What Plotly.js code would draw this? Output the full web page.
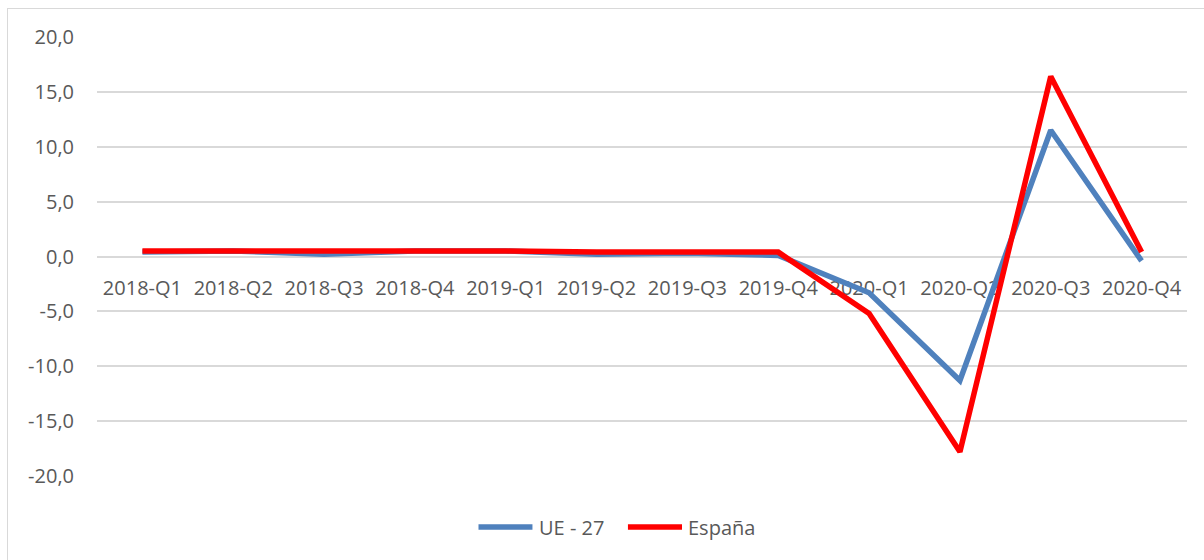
<!DOCTYPE html>
<html>
<head>
<meta charset="utf-8">
<script src="https://cdn.plot.ly/plotly-3.0.1.min.js"></script>
<style>
  html, body { margin: 0; padding: 0; background: #fff; overflow: hidden; }
  #chart { width: 1204px; height: 560px; }
  #frame { position: absolute; left: 7px; top: 8px; width: 1400px; height: 800px;
           border-left: 1px solid #d9d9d9; border-top: 1px solid #d9d9d9; pointer-events: none; }
</style>
</head>
<body>
<div id="chart"></div>
<div id="frame"></div>
<script>
const categories = ["2018-Q1","2018-Q2","2018-Q3","2018-Q4","2019-Q1","2019-Q2","2019-Q3","2019-Q4","2020-Q1","2020-Q2","2020-Q3","2020-Q4"];
const seriesNames = ["UE - 27", "España"];
const ue27 = [0.4, 0.5, 0.2, 0.5, 0.5, 0.2, 0.3, 0.1, -3.3, -11.3, 11.5, -0.4];
const espana = [0.5, 0.5, 0.6, 0.6, 0.5, 0.4, 0.4, 0.4, -5.2, -17.8, 16.4, 0.4];
const colors = ["#4f81bd", "#ff0000"];
const yTicks = [-20, -15, -10, -5, 0, 5, 10, 15, 20];
const yTickText = yTicks.map(v => v.toFixed(1).replace(".", ","));

const txtColor = "#595959";
const fontFamily = "'Open Sans', 'Liberation Sans', sans-serif";

const traces = [ue27, espana].map((vals, i) => ({
  type: "scatter",
  mode: "lines",
  x: categories,
  y: vals,
  name: seriesNames[i],
  line: { color: colors[i], width: 5.5 },
  showlegend: false,
  hoverinfo: "x+y+name"
}));

// custom legend (sample line + label) in paper coordinates
const legendShapes = [];
const legendAnn = [];
const legendX = [[0.35, 0.3995], [0.4871, 0.5367]];
const legendY = -0.1163;
seriesNames.forEach((n, i) => {
  legendShapes.push({
    type: "line", xref: "paper", yref: "paper",
    x0: legendX[i][0], x1: legendX[i][1], y0: legendY, y1: legendY,
    line: { color: colors[i], width: 5.5 }
  });
  legendAnn.push({
    xref: "paper", yref: "paper", x: legendX[i][1] + 0.004, y: legendY,
    xanchor: "left", yanchor: "middle", showarrow: false,
    text: n, font: { family: fontFamily, size: 20, color: txtColor }
  });
});

const layout = {
  width: 1204, height: 560,
  margin: { l: 97, r: 17, t: 37, b: 84, pad: 0 },
  paper_bgcolor: "#fff", plot_bgcolor: "#fff",
  separators: ",.",
  font: { family: fontFamily, size: 20, color: txtColor },
  showlegend: false,
  xaxis: {
    type: "category",
    range: [-0.5, categories.length - 0.5],
    anchor: "free", position: 0.5,
    showgrid: false, showline: false, zeroline: false,
    ticks: "", tickangle: 0,
    ticklabelstandoff: 17,
    layer: "below traces",
    tickfont: { family: fontFamily, size: 20, color: txtColor }
  },
  yaxis: {
    range: [-20, 20],
    tickvals: yTicks,
    ticktext: yTickText,
    showgrid: true, gridcolor: "#d9d9d9", gridwidth: 2,
    zeroline: true, zerolinecolor: "#d9d9d9", zerolinewidth: 2,
    showline: false, ticks: "",
    ticklabelstandoff: 22,
    tickfont: { family: fontFamily, size: 20, color: txtColor }
  },
  shapes: legendShapes,
  annotations: legendAnn
};

Plotly.newPlot("chart", traces, layout, { displayModeBar: false, staticPlot: true });
</script>
</body>
</html>
